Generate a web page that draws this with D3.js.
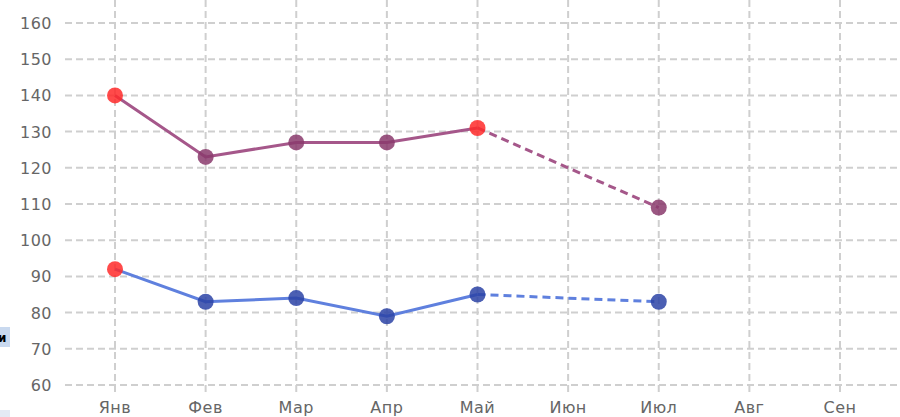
<!DOCTYPE html>
<html>
<head>
<meta charset="utf-8">
<script src="https://cdn.jsdelivr.net/npm/d3@7"></script>
<style>
  body { margin: 0; background: #fff; }
  svg { display: block; }
  .grid line { stroke: #cfcfcf; stroke-width: 2; stroke-dasharray: 7,4; }
  .lbl { font-family: "DejaVu Sans", Verdana, sans-serif; font-size: 16px; fill: #666; letter-spacing: 0.5px; }
</style>
</head>
<body>
<div id="chart"></div>
<script>
const months = ["Янв", "Фев", "Мар", "Апр", "Май", "Июн", "Июл", "Авг", "Сен"];
const yTicks = [60, 70, 80, 90, 100, 110, 120, 130, 140, 150, 160];

// null = no value for that month
const seriesA = [140, 123, 127, 127, 131, null, 109, null, null];
const seriesB = [92, 83, 84, 79, 85, null, 83, null, null];
// months highlighted with red markers
const redA = ["Янв", "Май"];
const redB = ["Янв"];
const solidUntil = "Май";

const width = 900, height = 417;

const svg = d3.select('#chart').append('svg')
    .attr('width', width)
    .attr('height', height);

const x = d3.scalePoint()
    .domain(months)
    .range([115, 840]);

const y = d3.scaleLinear()
    .domain([60, 160])
    .range([385, 23]);

// left cropped fragment of a neighbouring widget
svg.append('rect')
    .attr('x', 0).attr('y', 327).attr('width', 10).attr('height', 20)
    .attr('fill', '#c9d9ef');
svg.append('text')
    .attr('x', -2).attr('y', 342)
    .style('font-family', 'DejaVu Sans, sans-serif')
    .style('font-size', '12px').style('font-weight', 'bold')
    .text('и');
svg.append('rect')
    .attr('x', 0).attr('y', 410).attr('width', 10).attr('height', 7)
    .attr('fill', '#e4eaf4');

// grid
const step = x.step();
const gridX = months.map(m => x(m)).concat([x(months[months.length - 1]) + step]);
const grid = svg.append('g').attr('class', 'grid');
grid.selectAll('.h').data(yTicks).enter().append('line')
    .attr('x1', 65).attr('x2', width)
    .attr('y1', d => y(d)).attr('y2', d => y(d));
grid.selectAll('.v').data(gridX).enter().append('line')
    .attr('x1', d => d).attr('x2', d => d)
    .attr('y1', 0).attr('y2', 392);

// y labels
svg.append('g').selectAll('text').data(yTicks).enter().append('text')
    .attr('class', 'lbl')
    .attr('x', 52)
    .attr('y', d => y(d) + 6)
    .attr('text-anchor', 'end')
    .text(d => d);

// x labels
svg.append('g').selectAll('text').data(months).enter().append('text')
    .attr('class', 'lbl')
    .attr('x', d => x(d))
    .attr('y', 413)
    .attr('text-anchor', 'middle')
    .text(d => d);

function drawSeries(values, lineColor, dotColor, reds) {
    const pts = months.map((m, i) => ({ m: m, v: values[i] })).filter(d => d.v !== null);
    const cut = pts.findIndex(d => d.m === solidUntil);
    const solid = pts.slice(0, cut + 1);
    const dashed = pts.slice(cut);

    const line = d3.line().x(d => x(d.m)).y(d => y(d.v));

    svg.append('path')
        .datum(solid)
        .attr('d', line)
        .attr('fill', 'none')
        .attr('stroke', lineColor)
        .attr('stroke-width', 3);

    svg.append('path')
        .datum(dashed)
        .attr('d', line)
        .attr('fill', 'none')
        .attr('stroke', lineColor)
        .attr('stroke-width', 3)
        .attr('stroke-dasharray', '8,5');

    svg.append('g').selectAll('circle').data(pts).enter().append('circle')
        .attr('cx', d => x(d.m))
        .attr('cy', d => y(d.v))
        .attr('r', 8)
        .attr('fill', d => reds.includes(d.m) ? '#ff2a2a' : dotColor)
        .attr('fill-opacity', 0.85);
}

drawSeries(seriesA, '#a5578a', '#8a3a6c', redA);
drawSeries(seriesB, '#5f80de', '#2c43a6', redB);
</script>
</body>
</html>
